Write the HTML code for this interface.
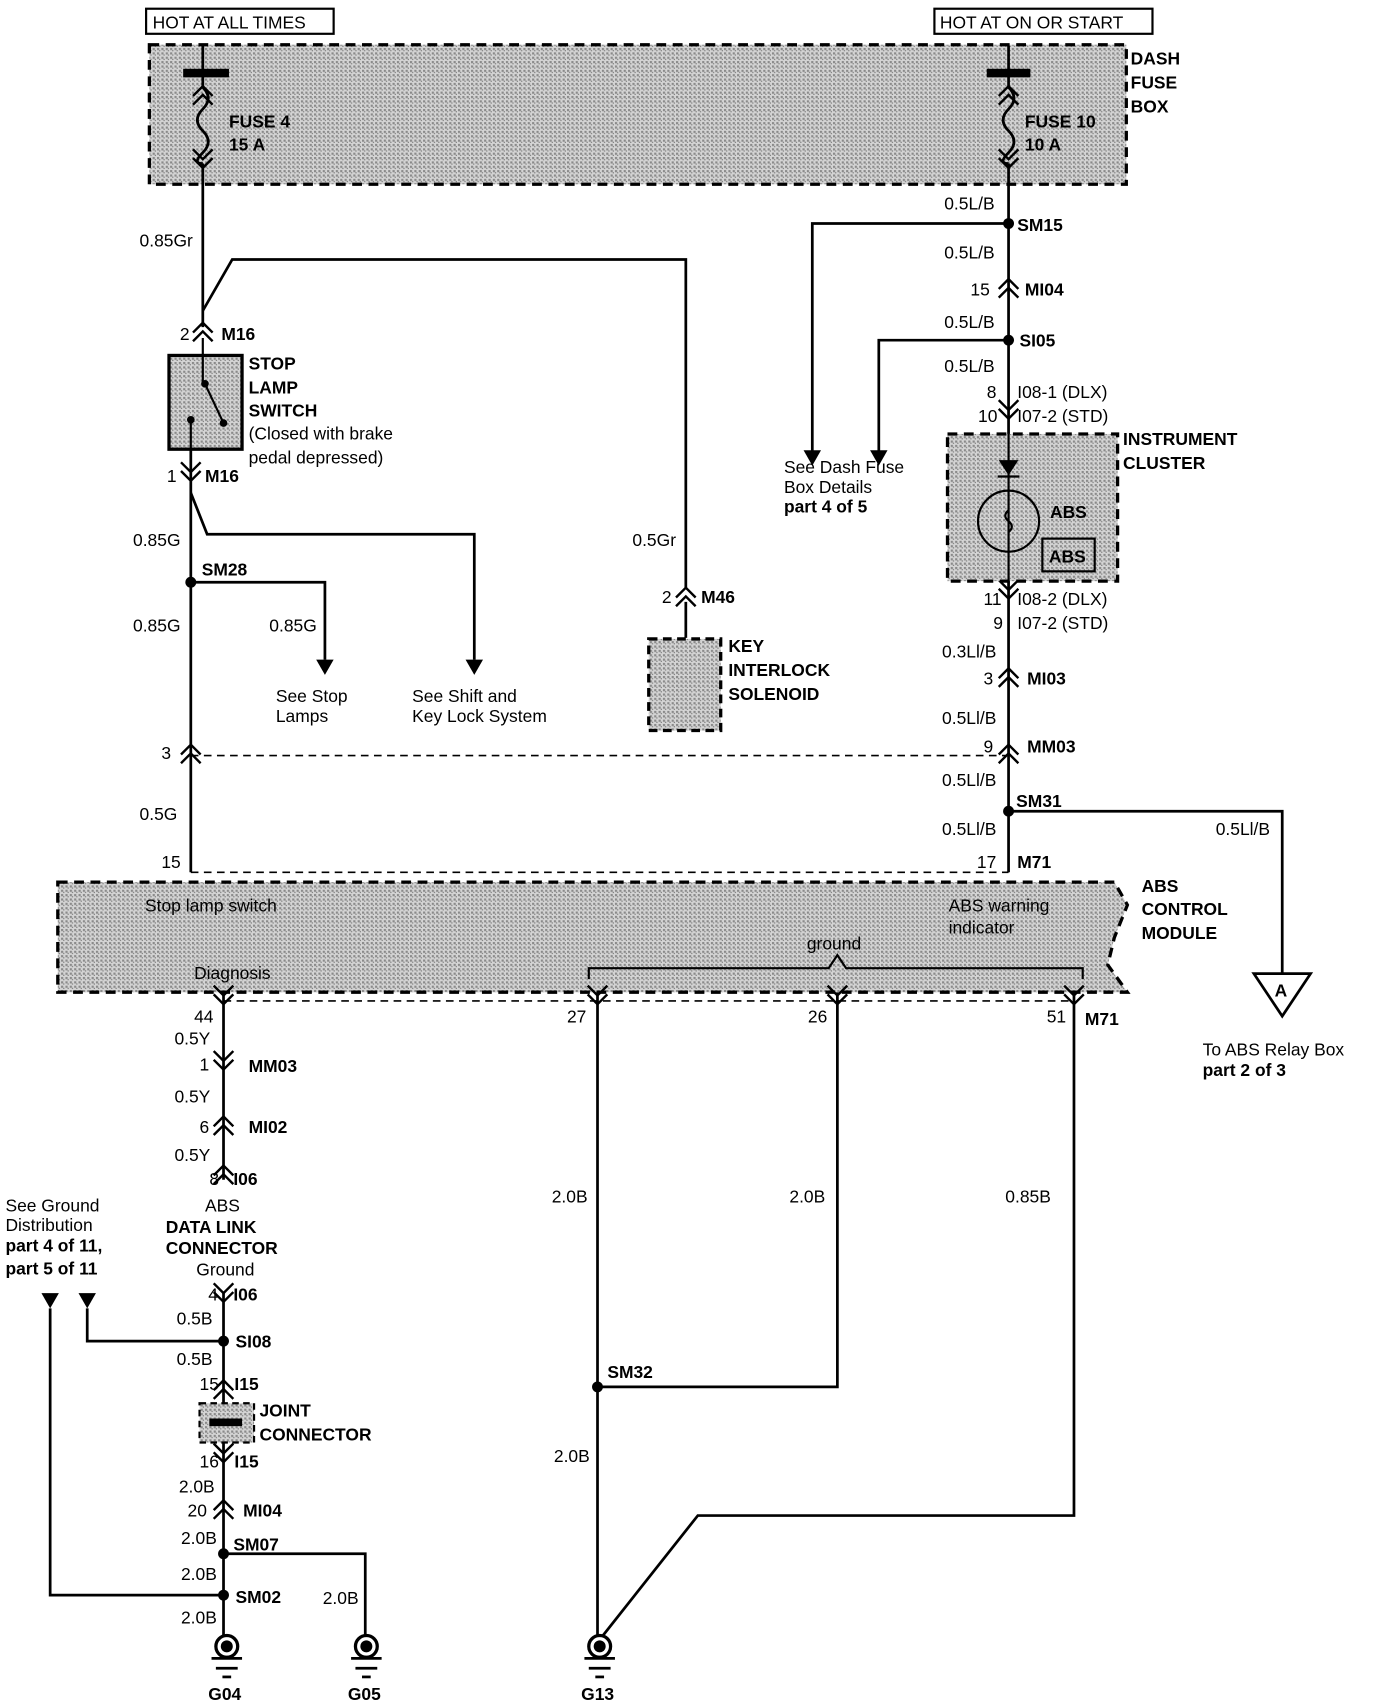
<!DOCTYPE html>
<html><head><meta charset="utf-8"><style>
html,body{margin:0;padding:0;background:#fff;width:1376px;height:1702px;overflow:hidden}
svg{display:block}
text{font-family:"Liberation Sans",Arial,sans-serif;font-size:16px;fill:#000}
.b{font-weight:bold}
</style></head><body>
<svg width="1376" height="1702" viewBox="0 0 1262 1561" preserveAspectRatio="none" xmlns="http://www.w3.org/2000/svg">
<defs>
<pattern id="dots" width="4" height="4" patternUnits="userSpaceOnUse">
<rect width="4" height="4" fill="#d4d4d4"/><rect width="2" height="2" fill="#8a8a8a"/><rect x="2" y="2" width="1" height="1" fill="#666"/>
</pattern>
<g id="cu" fill="none" stroke="#000" stroke-width="2.2"><polyline points="-9,0 0,-9 9,0"/><polyline points="-9,8 0,-1 9,8"/></g>
<g id="cd" fill="none" stroke="#000" stroke-width="2.2"><polyline points="-9,-8 0,1 9,-8"/><polyline points="-9,0 0,9 9,0"/></g>
<g id="gnd"><circle r="10" fill="none" stroke="#000" stroke-width="3"/><circle r="5.5" fill="#000"/><line x1="-14" y1="11" x2="14" y2="11" stroke="#000" stroke-width="2.5"/><line x1="-10" y1="20" x2="10" y2="20" stroke="#000" stroke-width="2.5"/><line x1="-4" y1="28" x2="4" y2="28" stroke="#000" stroke-width="2.5"/></g>
<polygon id="arr" points="-8,-12 8,-12 0,2" fill="#000"/>
</defs>

<rect x="134" y="8" width="172" height="23" fill="#fff" stroke="#000" stroke-width="2"/>
<text x="140" y="26">HOT AT ALL TIMES</text>
<rect x="857" y="8" width="200" height="23" fill="#fff" stroke="#000" stroke-width="2"/>
<text x="862" y="26">HOT AT ON OR START</text>

<rect x="137" y="41" width="896" height="128" fill="url(#dots)" stroke="#000" stroke-width="3" stroke-dasharray="9,6"/>
<text class="b" x="1037" y="59">DASH</text><text class="b" x="1037" y="81">FUSE</text><text class="b" x="1037" y="103">BOX</text>
<text class="b" x="210" y="117">FUSE 4</text><text class="b" x="210" y="138">15 A</text>
<text class="b" x="940" y="117">FUSE 10</text><text class="b" x="940" y="138">10 A</text>

<g stroke="#000" stroke-width="2.5" fill="none">
<line x1="186" y1="42" x2="186" y2="80"/>
<line x1="186" y1="150" x2="186" y2="300"/>
<line x1="168" y1="67" x2="210" y2="67" stroke-width="8"/>
<path d="M186 80 q10 10 0 20 q-10 10 0 20 q10 10 0 20 q-10 10 0 10"/>
<line x1="925" y1="42" x2="925" y2="80"/>
<line x1="925" y1="150" x2="925" y2="800"/>
<line x1="905" y1="67" x2="945" y2="67" stroke-width="8"/>
<path d="M925 80 q10 10 0 20 q-10 10 0 20 q10 10 0 20 q-10 10 0 10"/>
<polyline points="186,285 213,238 629,238 629,540"/>
<line x1="629" y1="552" x2="629" y2="585"/>
<line x1="175" y1="412" x2="175" y2="800"/>
<polyline points="175,452 190,490 435,490 435,605"/>
<polyline points="175,534 298,534 298,605"/>
<polyline points="925,205 745,205 745,415"/>
<polyline points="925,312 806,312 806,415"/>
<polyline points="925,744 1176,744 1176,893"/>
<line x1="175" y1="693" x2="925" y2="693" stroke-width="1.5" stroke-dasharray="7,5"/>
<line x1="175" y1="800" x2="925" y2="800" stroke-width="1.5" stroke-dasharray="7,5"/>
<line x1="205" y1="918" x2="985" y2="918" stroke-width="1.5" stroke-dasharray="7,5"/>
<line x1="205" y1="910" x2="205" y2="1082"/>
<line x1="205" y1="1185" x2="205" y2="1500"/>
<polyline points="46,1200 46,1463 205,1463"/>
<polyline points="80,1200 80,1230 205,1230"/>
<polyline points="205,1425 335,1425 335,1500"/>
<line x1="548" y1="910" x2="548" y2="1500"/>
<polyline points="548,1272 768,1272 768,910"/>
<polyline points="985,910 985,1390 640,1390 553,1500"/>
</g>
<use href="#cu" x="186" y="88"/><use href="#cd" x="186" y="145"/>
<use href="#cu" x="925" y="88"/><use href="#cd" x="925" y="145"/>

<rect x="155" y="326" width="67" height="86" fill="url(#dots)" stroke="#000" stroke-width="3"/>
<g stroke="#000" stroke-width="2" fill="none"><line x1="186" y1="310" x2="186" y2="352"/><line x1="188" y1="352" x2="205" y2="388"/><line x1="175" y1="385" x2="175" y2="420"/></g>
<circle cx="188" cy="352" r="3.5"/><circle cx="205" cy="388" r="3.5"/><circle cx="175" cy="385" r="3.5"/>
<text class="b" x="228" y="339">STOP</text><text class="b" x="228" y="361">LAMP</text><text class="b" x="228" y="382">SWITCH</text>
<text x="228" y="403">(Closed with brake</text><text x="228" y="425">pedal depressed)</text>

<use href="#cu" x="186" y="305"/><text x="165" y="312">2</text><text class="b" x="203" y="312">M16</text>
<use href="#cd" x="175" y="432"/><text x="153" y="442">1</text><text class="b" x="188" y="442">M16</text>
<use href="#cu" x="629" y="548"/><text x="607" y="553">2</text><text class="b" x="643" y="553">M46</text>
<use href="#cu" x="175" y="692"/><text x="148" y="696">3</text>
<use href="#cu" x="925" y="692"/><text x="902" y="690">9</text><text class="b" x="942" y="690">MM03</text>
<text x="148" y="796">15</text><text x="896" y="796">17</text><text class="b" x="933" y="796">M71</text>
<use href="#cu" x="925" y="265"/><text x="890" y="271">15</text><text class="b" x="940" y="271">MI04</text>
<use href="#cd" x="925" y="375"/><text x="905" y="365">8</text><text x="933" y="365">I08-1 (DLX)</text><text x="897" y="387">10</text><text x="933" y="387">I07-2 (STD)</text>
<use href="#cd" x="925" y="540"/><text x="902" y="555">11</text><text x="933" y="555">I08-2 (DLX)</text><text x="911" y="577">9</text><text x="933" y="577">I07-2 (STD)</text>
<use href="#cu" x="925" y="622"/><text x="902" y="628">3</text><text class="b" x="942" y="628">MI03</text>

<g fill="#000"><circle cx="925" cy="205" r="5"/><circle cx="925" cy="312" r="5"/><circle cx="175" cy="534" r="5"/><circle cx="925" cy="744" r="5"/>
<circle cx="205" cy="1230" r="5"/><circle cx="205" cy="1425" r="5"/><circle cx="205" cy="1463" r="5"/><circle cx="548" cy="1272" r="5"/></g>
<text class="b" x="933" y="212">SM15</text><text class="b" x="935" y="318">SI05</text><text class="b" x="185" y="528">SM28</text><text class="b" x="932" y="740">SM31</text>

<use href="#arr" x="745" y="425"/><use href="#arr" x="806" y="425"/><use href="#arr" x="298" y="617"/><use href="#arr" x="435" y="617"/>
<polygon points="38,1186 54,1186 46,1200" fill="#000"/><polygon points="72,1186 88,1186 80,1200" fill="#000"/>

<text x="128" y="226">0.85Gr</text><text x="122" y="501">0.85G</text><text x="122" y="579">0.85G</text><text x="247" y="579">0.85G</text>
<text x="580" y="501">0.5Gr</text><text x="128" y="752">0.5G</text>
<text x="866" y="192">0.5L/B</text><text x="866" y="237">0.5L/B</text><text x="866" y="301">0.5L/B</text><text x="866" y="341">0.5L/B</text>
<text x="864" y="603">0.3Ll/B</text><text x="864" y="664">0.5Ll/B</text><text x="864" y="721">0.5Ll/B</text><text x="864" y="766">0.5Ll/B</text><text x="1115" y="766">0.5Ll/B</text>
<text x="719" y="434">See Dash Fuse</text><text x="719" y="452">Box Details</text><text class="b" x="719" y="470">part 4 of 5</text>
<text x="253" y="644">See Stop</text><text x="253" y="662">Lamps</text>
<text x="378" y="644">See Shift and</text><text x="378" y="662">Key Lock System</text>

<rect x="595" y="586" width="66" height="84" fill="url(#dots)" stroke="#000" stroke-width="3" stroke-dasharray="8,5"/>
<text class="b" x="668" y="598">KEY</text><text class="b" x="668" y="620">INTERLOCK</text><text class="b" x="668" y="642">SOLENOID</text>

<rect x="869" y="398" width="156" height="135" fill="url(#dots)" stroke="#000" stroke-width="3" stroke-dasharray="9,6"/>
<line x1="925" y1="398" x2="925" y2="540" stroke="#000" stroke-width="2"/>
<polygon points="916,422 934,422 925,436" fill="#000"/><line x1="915" y1="437" x2="935" y2="437" stroke="#000" stroke-width="2"/>
<circle cx="925" cy="478" r="28" fill="none" stroke="#000" stroke-width="2"/>
<path d="M925 468 q-6 5 0 10 q6 5 0 10" fill="none" stroke="#000" stroke-width="2"/>
<text class="b" x="963" y="475">ABS</text>
<rect x="956" y="494" width="48" height="30" fill="none" stroke="#000" stroke-width="2"/><text class="b" x="962" y="516">ABS</text>
<text class="b" x="1030" y="408">INSTRUMENT</text><text class="b" x="1030" y="430">CLUSTER</text>

<path d="M53 809 L1022 809 L1034 830 L1022 860 L1016 885 L1034 910 L53 910 Z" fill="url(#dots)" stroke="#000" stroke-width="3" stroke-dasharray="9,6"/>
<text x="133" y="836">Stop lamp switch</text><text x="870" y="836">ABS warning</text><text x="870" y="856">indicator</text>
<text x="740" y="871">ground</text><text x="178" y="898">Diagnosis</text>
<path d="M540 898 L540 888 L760 888 L768 876 L776 888 L993 888 L993 898" fill="none" stroke="#000" stroke-width="2"/>
<text class="b" x="1047" y="818">ABS</text><text class="b" x="1047" y="839">CONTROL</text><text class="b" x="1047" y="861">MODULE</text>
<polygon points="1150,893 1202,893 1176,932" fill="#fff" stroke="#000" stroke-width="2.5"/><text class="b" x="1169" y="914">A</text>
<text x="1103" y="968">To ABS Relay Box</text><text class="b" x="1103" y="987">part 2 of 3</text>

<use href="#cd" x="205" y="912"/><use href="#cd" x="548" y="912"/><use href="#cd" x="768" y="912"/><use href="#cd" x="985" y="912"/>
<text x="178" y="938">44</text><text x="520" y="938">27</text><text x="741" y="938">26</text><text x="960" y="938">51</text><text class="b" x="995" y="940">M71</text>

<text x="160" y="958">0.5Y</text>
<use href="#cd" x="205" y="972"/><text x="183" y="982">1</text><text class="b" x="228" y="983">MM03</text>
<text x="160" y="1011">0.5Y</text>
<use href="#cu" x="205" y="1033"/><text x="183" y="1039">6</text><text class="b" x="228" y="1039">MI02</text>
<text x="160" y="1065">0.5Y</text>
<use href="#cu" x="205" y="1078"/><text x="192" y="1087">8</text><text class="b" x="214" y="1087">I06</text>
<text x="188" y="1111">ABS</text><text class="b" x="152" y="1131">DATA LINK</text><text class="b" x="152" y="1150">CONNECTOR</text><text x="180" y="1170">Ground</text>
<use href="#cd" x="205" y="1185"/><text x="191" y="1193">4</text><text class="b" x="214" y="1193">I06</text>
<text x="162" y="1215">0.5B</text><text class="b" x="216" y="1236">SI08</text>
<text x="162" y="1252">0.5B</text>
<use href="#cu" x="205" y="1275"/><text x="183" y="1275">15</text><text class="b" x="215" y="1275">I15</text>
<rect x="183" y="1287" width="50" height="36" fill="url(#dots)" stroke="#000" stroke-width="2" stroke-dasharray="6,4"/>
<rect x="192" y="1301" width="30" height="7" fill="#000"/>
<text class="b" x="238" y="1299">JOINT</text><text class="b" x="238" y="1321">CONNECTOR</text>
<use href="#cd" x="205" y="1332"/><text x="183" y="1346">16</text><text class="b" x="215" y="1346">I15</text>
<text x="164" y="1369">2.0B</text>
<use href="#cu" x="205" y="1385"/><text x="172" y="1391">20</text><text class="b" x="223" y="1391">MI04</text>
<text x="166" y="1416">2.0B</text><text class="b" x="214" y="1422">SM07</text>
<text x="166" y="1449">2.0B</text><text class="b" x="216" y="1470">SM02</text><text x="296" y="1471">2.0B</text>
<text x="166" y="1489">2.0B</text>
<text x="5" y="1111">See Ground</text><text x="5" y="1129">Distribution</text><text class="b" x="5" y="1148">part 4 of 11,</text><text class="b" x="5" y="1169">part 5 of 11</text>

<text x="506" y="1103">2.0B</text><text x="724" y="1103">2.0B</text><text x="922" y="1103">0.85B</text>
<text class="b" x="557" y="1264">SM32</text><text x="508" y="1341">2.0B</text>

<use href="#gnd" x="208" y="1510"/><use href="#gnd" x="336" y="1510"/><use href="#gnd" x="550" y="1510"/>
<text class="b" x="191" y="1559">G04</text><text class="b" x="319" y="1559">G05</text><text class="b" x="533" y="1559">G13</text>
</svg>
</body></html>
